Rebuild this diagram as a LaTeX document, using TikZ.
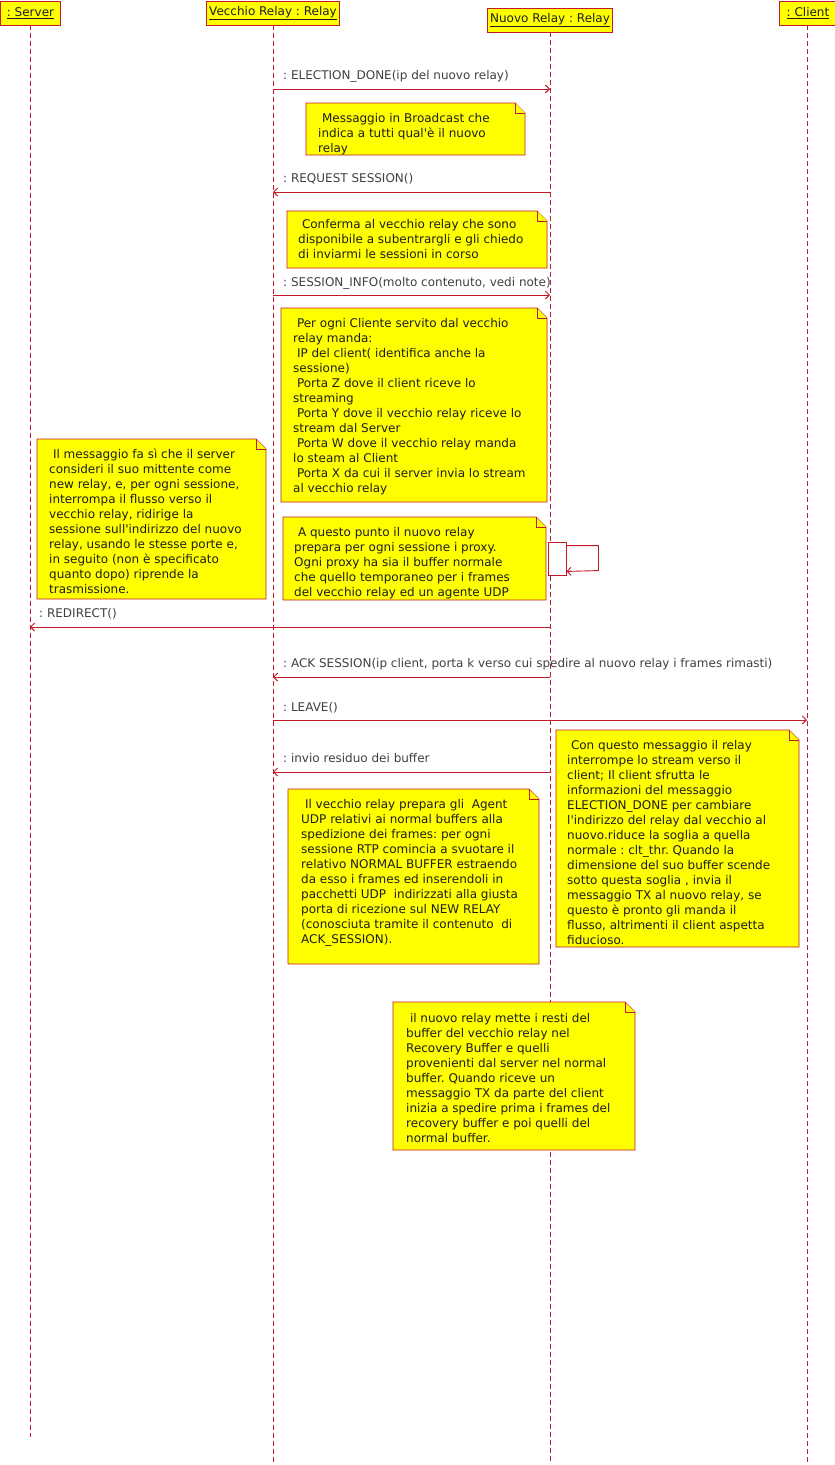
\documentclass[tikz,border=0pt]{standalone}
\usepackage{fontspec}
\setmainfont{DejaVu Sans}[Ligatures=TeXOff]
\usetikzlibrary{arrows.meta}
\definecolor{lred}{RGB}{195,25,40}
\definecolor{nyellow}{RGB}{255,255,0}
\definecolor{ntext}{RGB}{30,30,30}
\definecolor{ltext}{RGB}{64,64,64}
\newcommand{\umlnote}[4]{%
  \draw[notebox] (#1,#2) -- (#3-10,#2) -- (#3,#2+10) -- (#3,#4) -- (#1,#4) -- cycle;
  \draw[notebox] (#3-10,#2) -- (#3-10,#2+10) -- (#3,#2+10);}
\begin{document}
\frenchspacing
\begin{tikzpicture}[x=1pt,y=-1pt,
  every node/.style={font=\fontsize{12}{15}\selectfont\frenchspacing},
  lifeline/.style={draw=lred, dash pattern=on 5pt off 3pt, line width=0.9pt},
  msg/.style={draw=lred, line width=0.9pt, -{Straight Barb[length=4pt,width=8pt,line width=0.9pt]}},
  head/.style={draw=lred, fill=nyellow, line width=0.9pt, inner sep=0, text=ntext},
  notebox/.style={draw=lred, fill=nyellow, line width=0.9pt, line join=miter},
  ntxt/.style={anchor=north west, inner sep=0, align=left, text=ntext},
  lbl/.style={anchor=base west, inner sep=0, text=ltext}
]
\useasboundingbox (0,0) rectangle (835,1465);

% heads
\node[head, minimum width=60, minimum height=24] (srv) at (30.5,13) {\underline{: Server}};
\node[head, minimum width=133, minimum height=24] (old) at (273,13) {\underline{Vecchio Relay : Relay}};
\node[head, minimum width=125, minimum height=24] (new) at (550,20) {\underline{Nuovo Relay : Relay}};
\node[head, minimum width=58, minimum height=24] (cli) at (808,13) {\underline{: Client}};

% lifeline ends
\coordinate (srvE) at (30,1437);
\coordinate (oldE) at (273,1463);
\coordinate (newE) at (550,1463);
\coordinate (cliE) at (807,1463);
\draw[lifeline] (srv.south -| srvE) -- (srvE);
\draw[lifeline] (old.south -| oldE) -- (oldE);
\draw[lifeline] (new.south -| newE) -- (newE);
\draw[lifeline] (cli.south -| cliE) -- (cliE);

% messages
\coordinate (m1a) at (273,89);  \coordinate (m1b) at (550,89);
\draw[msg] (m1a) -- (m1b);
\node[lbl] (l1) at (283,79) {: ELECTION\_DONE(ip del nuovo relay)};

\coordinate (m2a) at (550,192); \coordinate (m2b) at (273,192);
\draw[msg] (m2a) -- (m2b);
\node[lbl] (l2) at (283,182) {: REQUEST SESSION()};

\coordinate (m3a) at (273,295); \coordinate (m3b) at (550,295);
\draw[msg] (m3a) -- (m3b);
\node[lbl] (l3) at (283,286) {: SESSION\_INFO(molto contenuto, vedi note)};

% self message
\node[draw=lred, fill=white, line width=0.9pt, minimum width=18, minimum height=33, inner sep=0] (act) at (557,558.5) {};
\draw[msg] ([yshift=-4pt]act.north east) -- ++(32,0) -- ++(0,25) -- ([yshift=4pt]act.south east);

\coordinate (m4a) at (550,627); \coordinate (m4b) at (30,627);
\draw[msg] (m4a) -- (m4b);
\node[lbl] (l4) at (39,617) {: REDIRECT()};

\coordinate (m5a) at (550,677); \coordinate (m5b) at (273,677);
\draw[msg] (m5a) -- (m5b);
\node[lbl] (l5) at (283,667) {: ACK SESSION(ip client, porta k verso cui spedire al nuovo relay i frames rimasti)};

\coordinate (m6a) at (273,720); \coordinate (m6b) at (807,720);
\draw[msg] (m6a) -- (m6b);
\node[lbl] (l6) at (283,711) {: LEAVE()};

\coordinate (m7a) at (550,772); \coordinate (m7b) at (273,772);
\draw[msg] (m7a) -- (m7b);
\node[lbl] (l7) at (283,762) {: invio residuo dei buffer};

% notes
\umlnote{306}{103}{525}{155}
\node[ntxt] (t1) at (318,112) {\strut\ Messaggio in Broadcast che\\indica a tutti qual'è il nuovo\\relay};

\umlnote{287}{211}{547}{268}
\node[ntxt] (t2) at (298,218) {\strut\ Conferma al vecchio relay che sono\\disponibile a subentrargli e gli chiedo\\di inviarmi le sessioni in corso};

\umlnote{281}{308}{547}{502}
\node[ntxt] (t3) at (293,317) {\strut\ Per ogni Cliente servito dal vecchio\\relay manda:\\\ IP del client( identifica anche la\\sessione)\\\ Porta Z dove il client riceve lo\\streaming\\\ Porta Y dove il vecchio relay riceve lo\\stream dal Server\\\ Porta W dove il vecchio relay manda\\lo steam al Client\\\ Porta X da cui il server invia lo stream\\al vecchio relay};

\umlnote{37}{439}{266}{599}
\node[ntxt] (t4) at (49,448) {\strut\ Il messaggio fa sì che il server\\consideri il suo mittente come\\new relay, e, per ogni sessione,\\interrompa il flusso verso il\\vecchio relay, ridirige la\\sessione sull'indirizzo del nuovo\\relay, usando le stesse porte e,\\in seguito (non è specificato\\quanto dopo) riprende la\\trasmissione.};

\umlnote{283}{517}{546}{600}
\node[ntxt] (t5) at (294,526) {\strut\ A questo punto il nuovo relay\\prepara per ogni sessione i proxy.\\Ogni proxy ha sia il buffer normale\\che quello temporaneo per i frames\\del vecchio relay ed un agente UDP};

\umlnote{556}{730}{799}{947}
\node[ntxt] (t6) at (567,739) {\strut\ Con questo messaggio il relay\\interrompe lo stream verso il\\client; Il client sfrutta le\\informazioni del messaggio\\ELECTION\_DONE per cambiare\\l'indirizzo del relay dal vecchio al\\nuovo.riduce la soglia a quella\\normale : clt\_thr. Quando la\\dimensione del suo buffer scende\\sotto questa soglia , invia il\\messaggio TX al nuovo relay, se\\questo è pronto gli manda il\\flusso, altrimenti il client aspetta\\fiducioso.};

\umlnote{288}{789}{539}{964}
\node[ntxt] (t7) at (301,798) {\strut\ Il vecchio relay prepara gli~ Agent\\UDP relativi ai normal buffers alla\\spedizione dei frames: per ogni\\sessione RTP comincia a svuotare il\\relativo NORMAL BUFFER estraendo\\da esso i frames ed inserendoli in\\pacchetti UDP~ indirizzati alla giusta\\porta di ricezione sul NEW RELAY\\(conosciuta tramite il contenuto~ di\\ACK\_SESSION).};

\umlnote{393}{1002}{635}{1150}
\node[ntxt] (t8) at (406,1012) {\strut\ il nuovo relay mette i resti del\\buffer del vecchio relay nel\\Recovery Buffer e quelli\\provenienti dal server nel normal\\buffer. Quando riceve un\\messaggio TX da parte del client\\inizia a spedire prima i frames del\\recovery buffer e poi quelli del\\normal buffer.};
\end{tikzpicture}
\end{document}
